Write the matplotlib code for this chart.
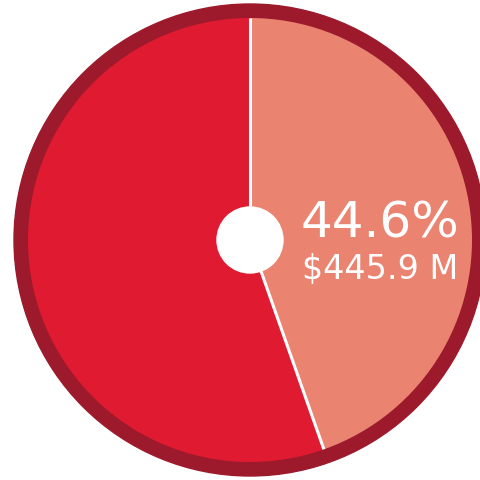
import numpy as np
import matplotlib
matplotlib.use("Agg")
import matplotlib.pyplot as plt
from matplotlib.patches import Circle

# 数据
labels = ["占比", "其他"]
shares = [44.6, 55.4]
amount_label = "$445.9 M"
colors = ["#ea8470", "#e01a30"]
ring_color = "#9c1a2b"

W, H = 481, 480
cx, cy = 250, H - 240
r_outer = 236
r_pie = 222
r_hole = 33

fig = plt.figure(figsize=(W / 100, H / 100), dpi=100)
ax = fig.add_axes([0, 0, 1, 1])

# 外圈
ax.add_patch(Circle((cx, cy), r_outer, color=ring_color, zorder=1))

ax.pie(shares, colors=colors, startangle=90, counterclock=False,
       radius=r_pie, center=(cx, cy), frame=True,
       wedgeprops=dict(linewidth=0))
ax.set_xlim(0, W)
ax.set_ylim(0, H)
ax.set_aspect("equal")
ax.axis("off")

# 分隔线
cum = np.cumsum([0] + shares)
for c in cum[:-1]:
    ang = np.deg2rad(90 - c / sum(shares) * 360)
    ax.plot([cx, cx + r_pie * np.cos(ang)], [cy, cy + r_pie * np.sin(ang)],
            color="white", lw=2.2, zorder=5, solid_capstyle="butt")

# 中心圆
ax.add_patch(Circle((cx, cy), r_hole, color="white", zorder=6))

ax.text(380, H - 224, f"{shares[0]}%", color="white", fontsize=36,
        ha="center", va="center", zorder=7)
ax.text(380, H - 269, amount_label, color="white", fontsize=24,
        ha="center", va="center", zorder=7)

fig.savefig("out.png", dpi=100)
